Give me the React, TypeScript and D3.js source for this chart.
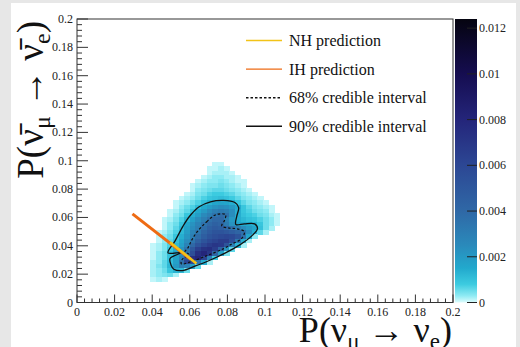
import * as d3 from 'd3'

// axes
const AXIS_TICKS = [0, 0.02, 0.04, 0.06, 0.08, 0.1, 0.12, 0.14, 0.16, 0.18, 0.2]
const AXIS_LABELS = ['0', '0.02', '0.04', '0.06', '0.08', '0.1', '0.12', '0.14', '0.16', '0.18', '0.2']
const Z_TICKS = [0, 0.002, 0.004, 0.006, 0.008, 0.01, 0.012]
const Z_LABELS = ['0', '0.002', '0.004', '0.006', '0.008', '0.01', '0.012']
const Z_MAX = 0.0124

// palette stops
const Z_STOPS = [0, 0.0003, 0.0008, 0.0015, 0.0025, 0.004, 0.006, 0.008, 0.01, 0.0124]
const Z_COLORS = ['#dcfcfd', '#8eeaf3', '#3ccbe0', '#22a9cd', '#2a8abb', '#2f68a6', '#2c4794', '#24257a', '#150d50', '#050410']

// posterior histogram, bins of 0.003, values in units of 1e-4
const BIN = 0.003
const X0 = 0.036
const Y0 = 0.015
// rows listed from top (y = 0.096-0.099) down to bottom (y = 0.015-0.018)
const DENSITY = [
  [0, 0, 0, 0, 0, 0, 0, 0, 0, 0, 0, 0, 1, 1, 0, 0, 0, 0, 0, 0, 0, 0, 0, 0, 0],
  [0, 0, 0, 0, 0, 0, 0, 0, 0, 0, 0, 1, 1, 2, 1, 0, 0, 0, 0, 0, 0, 0, 0, 0, 0],
  [0, 0, 0, 0, 0, 0, 0, 0, 0, 0, 0, 1, 2, 2, 2, 1, 0, 0, 0, 0, 0, 0, 0, 0, 0],
  [0, 0, 0, 0, 0, 0, 0, 0, 0, 0, 1, 2, 3, 3, 2, 2, 1, 0, 0, 0, 0, 0, 0, 0, 0],
  [0, 0, 0, 0, 0, 0, 0, 0, 0, 1, 2, 3, 3, 4, 3, 2, 1, 1, 0, 0, 0, 0, 0, 0, 0],
  [0, 0, 0, 0, 0, 0, 0, 0, 1, 2, 3, 4, 4, 5, 4, 3, 2, 1, 0, 0, 0, 0, 0, 0, 0],
  [0, 0, 0, 0, 0, 0, 0, 0, 1, 3, 4, 5, 6, 6, 5, 4, 3, 2, 1, 0, 0, 0, 0, 0, 0],
  [0, 0, 0, 0, 0, 0, 0, 1, 2, 4, 5, 7, 8, 8, 7, 6, 4, 3, 2, 1, 0, 0, 0, 0, 0],
  [0, 0, 0, 0, 0, 0, 1, 2, 3, 5, 7, 9, 10, 11, 10, 8, 6, 4, 3, 2, 1, 0, 0, 0, 0],
  [0, 0, 0, 0, 0, 1, 2, 3, 5, 7, 10, 13, 16, 17, 16, 14, 9, 6, 4, 3, 2, 1, 0, 0, 0],
  [0, 0, 0, 0, 0, 1, 3, 5, 7, 11, 15, 19, 22, 24, 23, 20, 15, 9, 6, 4, 3, 2, 1, 0, 0],
  [0, 0, 0, 0, 1, 2, 4, 6, 10, 15, 20, 25, 30, 32, 30, 24, 14, 9, 7, 5, 4, 3, 1, 0, 0],
  [0, 0, 0, 0, 1, 3, 5, 9, 14, 19, 25, 30, 35, 38, 36, 24, 14, 10, 8, 7, 5, 4, 2, 1, 0],
  [0, 0, 0, 1, 2, 4, 7, 12, 18, 24, 30, 36, 40, 40, 30, 20, 14, 12, 10, 9, 7, 5, 3, 1, 0],
  [0, 0, 0, 1, 3, 5, 9, 15, 22, 28, 35, 40, 44, 42, 32, 22, 16, 15, 15, 13, 9, 5, 3, 1, 0],
  [0, 0, 0, 1, 3, 6, 11, 17, 24, 30, 38, 44, 48, 46, 40, 36, 30, 24, 20, 16, 10, 5, 2, 0, 0],
  [0, 0, 1, 2, 4, 7, 12, 19, 27, 34, 42, 48, 52, 52, 50, 46, 42, 36, 24, 14, 6, 2, 0, 0, 0],
  [0, 0, 1, 3, 5, 9, 14, 21, 30, 38, 46, 52, 56, 58, 60, 58, 52, 36, 16, 3, 0, 0, 0, 0, 0],
  [0, 0, 1, 3, 6, 10, 16, 24, 34, 44, 52, 58, 62, 66, 66, 56, 34, 14, 2, 0, 0, 0, 0, 0, 0],
  [0, 1, 2, 4, 7, 12, 18, 28, 40, 52, 60, 66, 70, 68, 52, 30, 12, 2, 0, 0, 0, 0, 0, 0, 0],
  [0, 1, 2, 4, 8, 14, 22, 34, 50, 64, 72, 74, 66, 44, 22, 6, 0, 0, 0, 0, 0, 0, 0, 0, 0],
  [0, 1, 3, 5, 10, 16, 24, 34, 56, 74, 80, 70, 42, 18, 4, 0, 0, 0, 0, 0, 0, 0, 0, 0, 0],
  [0, 1, 3, 5, 10, 17, 28, 50, 74, 80, 62, 30, 8, 0, 0, 0, 0, 0, 0, 0, 0, 0, 0, 0, 0],
  [0, 2, 3, 6, 11, 18, 36, 60, 58, 34, 14, 2, 0, 0, 0, 0, 0, 0, 0, 0, 0, 0, 0, 0, 0],
  [0, 2, 4, 6, 12, 20, 30, 28, 18, 6, 0, 0, 0, 0, 0, 0, 0, 0, 0, 0, 0, 0, 0, 0, 0],
  [0, 2, 3, 5, 9, 13, 12, 5, 0, 0, 0, 0, 0, 0, 0, 0, 0, 0, 0, 0, 0, 0, 0, 0, 0],
  [0, 2, 3, 4, 5, 2, 0, 0, 0, 0, 0, 0, 0, 0, 0, 0, 0, 0, 0, 0, 0, 0, 0, 0, 0],
  [0, 1, 2, 1, 0, 0, 0, 0, 0, 0, 0, 0, 0, 0, 0, 0, 0, 0, 0, 0, 0, 0, 0, 0, 0],
]

// credible interval contours [P(nu_mu->nu_e), P(anti)]
const CONTOUR_90: [number, number][] = [
  [0.0484, 0.035], [0.0553, 0.0352], [0.0495, 0.031], [0.05, 0.0265], [0.0515, 0.0235],
  [0.056, 0.0225], [0.063, 0.0258], [0.071, 0.03], [0.079, 0.035], [0.087, 0.041],
  [0.093, 0.047], [0.096, 0.052], [0.0945, 0.0555], [0.089, 0.0555], [0.0845, 0.055],
  [0.085, 0.061], [0.086, 0.067], [0.084, 0.0705], [0.078, 0.072], [0.071, 0.071],
  [0.065, 0.0675], [0.06, 0.061], [0.0564, 0.0539], [0.0521, 0.0433],
]
const CONTOUR_68: [number, number][] = [
  [0.064, 0.05], [0.069, 0.057], [0.074, 0.062], [0.079, 0.062], [0.0785, 0.058],
  [0.077, 0.054], [0.081, 0.0525], [0.085, 0.052], [0.089, 0.05], [0.0875, 0.045],
  [0.082, 0.041], [0.078, 0.038], [0.069, 0.033], [0.06, 0.0285], [0.0555, 0.0272],
  [0.056, 0.0305], [0.0595, 0.034], [0.0575, 0.036], [0.059, 0.0385], [0.061, 0.044],
]

// predictions
const IH_LINE: [number, number][] = [[0.0295, 0.0625], [0.0605, 0.0305]]
const NH_LINE: [number, number][] = [[0.0495, 0.0425], [0.0635, 0.0275]]

const LEGEND = [
  { label: 'NH prediction', color: '#f2c318', dash: '' },
  { label: 'IH prediction', color: '#ee6b14', dash: '' },
  { label: '68% credible interval', color: '#111', dash: '2.5,2' },
  { label: '90% credible interval', color: '#111', dash: '' },
]

const FONT = "'Liberation Serif', 'Times New Roman', Times, serif"

export default function App() {
  const W = 520
  const H = 347
  const fr = { l: 77, r: 453, t: 19, b: 302.5 }
  const x = d3.scaleLinear().domain([0, 0.2]).range([fr.l, fr.r])
  const y = d3.scaleLinear().domain([0, 0.2]).range([fr.b, fr.t])
  const z = d3.scaleLinear().domain([0, Z_MAX]).range([fr.b, fr.t])
  const color = d3
    .scaleLinear<string>()
    .domain(Z_STOPS)
    .range(Z_COLORS)
    .interpolate(d3.interpolateRgb)
    .clamp(true)

  const minor = d3.range(0, 0.2001, 0.004)
  const nRows = DENSITY.length
  const cells: { x0: number; y0: number; v: number }[] = []
  DENSITY.forEach((row, ri) => {
    row.forEach((v, ci) => {
      if (v > 0) cells.push({ x0: X0 + ci * BIN, y0: Y0 + (nRows - 1 - ri) * BIN, v: v * 1e-4 })
    })
  })

  const closed = d3
    .line<[number, number]>()
    .x(d => x(d[0]))
    .y(d => y(d[1]))
    .curve(d3.curveCatmullRomClosed.alpha(0.5))
  const straight = d3
    .line<[number, number]>()
    .x(d => x(d[0]))
    .y(d => y(d[1]))

  const barX = 455
  const barW = 22
  const txt = { fontFamily: FONT }

  return (
    <div>
      <style>{`body{margin:0}`}</style>
      <svg width={W} height={H} style={{ display: 'block', fontFamily: FONT }}>
        <defs>
          <linearGradient id="pal" x1="0" x2="0" y1="1" y2="0">
            {Z_STOPS.map((s, i) => (
              <stop key={i} offset={s / Z_MAX} stopColor={Z_COLORS[i]} />
            ))}
          </linearGradient>
        </defs>
        <rect width={W} height={H} fill="#e7e7e7" />
        <rect x={11} y={3} width={505} height={H - 3} fill="#fff" />

        {/* histogram */}
        <g shapeRendering="crispEdges">
          {cells.map((c, i) => (
            <rect
              key={i}
              x={x(c.x0)}
              y={y(c.y0 + BIN)}
              width={x(c.x0 + BIN) - x(c.x0) + 0.4}
              height={y(c.y0) - y(c.y0 + BIN) + 0.4}
              fill={color(c.v)}
            />
          ))}
        </g>

        {/* contours */}
        <path d={closed(CONTOUR_90) ?? ''} fill="none" stroke="#111" strokeWidth={1.3} />
        <path
          d={closed(CONTOUR_68) ?? ''}
          fill="none"
          stroke="#111"
          strokeWidth={1.2}
          strokeDasharray="2.5,2"
        />

        {/* predictions */}
        <path d={straight(IH_LINE) ?? ''} stroke="#ee6b14" strokeWidth={3} fill="none" />
        <path d={straight(NH_LINE) ?? ''} stroke="#f2c318" strokeWidth={2.5} fill="none" />

        {/* frame */}
        <rect x={fr.l} y={fr.t} width={fr.r - fr.l} height={fr.b - fr.t} fill="none" stroke="#333" />

        {/* x axis ticks */}
        {minor.map((t, i) => (
          <line
            key={'xm' + i}
            x1={x(t)}
            x2={x(t)}
            y1={fr.b}
            y2={fr.b - (i % 5 === 0 ? 8 : 4)}
            stroke="#333"
          />
        ))}
        {AXIS_TICKS.map((t, i) => (
          <text key={'xl' + i} x={x(t)} y={316} textAnchor="middle" fontSize={12} fill="#222" style={txt}>
            {AXIS_LABELS[i]}
          </text>
        ))}
        {/* y axis ticks */}
        {minor.map((t, i) => (
          <line
            key={'ym' + i}
            x1={fr.l}
            x2={fr.l + (i % 5 === 0 ? 11 : 5)}
            y1={y(t)}
            y2={y(t)}
            stroke="#333"
          />
        ))}
        {AXIS_TICKS.map((t, i) => (
          <text key={'yl' + i} x={73} y={y(t) + 4} textAnchor="end" fontSize={12} fill="#222" style={txt}>
            {AXIS_LABELS[i]}
          </text>
        ))}

        {/* palette */}
        <rect x={barX} y={fr.t} width={barW} height={fr.b - fr.t} fill="url(#pal)" />
        {Z_TICKS.map((t, i) => (
          <g key={'z' + i}>
            <line x1={barX + barW - 10} x2={barX + barW} y1={z(t)} y2={z(t)} stroke="#222" />
            <text x={barX + barW + 2} y={z(t) + 4} fontSize={12} fill="#222" style={txt}>
              {Z_LABELS[i]}
            </text>
          </g>
        ))}

        {/* legend */}
        {LEGEND.map((l, i) => {
          const ly = 40.5 + i * 28.6
          return (
            <g key={'lg' + i}>
              <line
                x1={246}
                x2={282}
                y1={ly}
                y2={ly}
                stroke={l.color}
                strokeWidth={1.4}
                strokeDasharray={l.dash || undefined}
              />
              <text x={289} y={ly + 5.5} fontSize={16} fill="#111" style={txt}>
                {l.label}
              </text>
            </g>
          )
        })}

        {/* titles */}
        <text x={452} y={342} textAnchor="end" fontSize={36} fill="#111" style={txt}>
          P(ν<tspan fontSize={23} dy={7}>μ</tspan>
          <tspan dy={-7}> → ν</tspan>
          <tspan fontSize={23} dy={7}>e</tspan>
          <tspan dy={-7}>)</tspan>
        </text>
        <text
          transform={`translate(43,${fr.t + 2}) rotate(-90)`}
          textAnchor="end"
          fontSize={37}
          fill="#111"
          style={txt}
        >
          P(ν̄<tspan fontSize={24} dy={7}>μ</tspan>
          <tspan dy={-7}> → ν̄</tspan>
          <tspan fontSize={24} dy={7}>e</tspan>
          <tspan dy={-7}>)</tspan>
        </text>
      </svg>
    </div>
  )
}
